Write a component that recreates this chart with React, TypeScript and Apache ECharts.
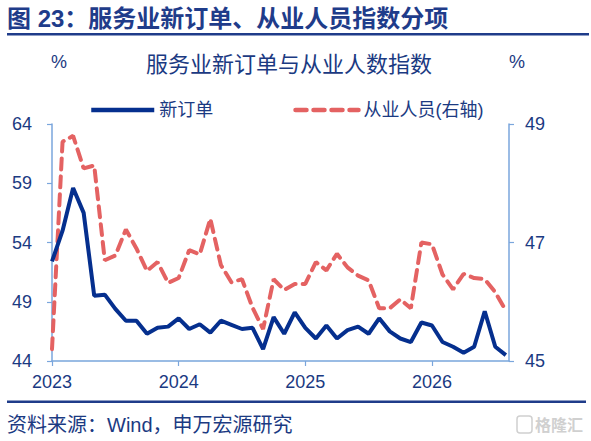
import React, { useEffect, useRef } from "react";
import * as echarts from "echarts";

const monthIndex: number[] = Array.from({ length: 44 }, (_, i) => i);
const yearTicks: number[] = [0, 12, 24, 36];
const yearLabels: string[] = ["2023", "2024", "2025", "2026"];
const leftTicks: number[] = [44, 49, 54, 59, 64];
const rightTicks: number[] = [45, 47, 49];

const newOrders: number[] = [
  52.4, 55.0, 58.6, 56.5, 49.5, 49.6, 48.4, 47.4, 47.4, 46.3, 46.8, 46.9,
  47.6, 46.7, 47.1, 46.4, 47.4, 47.05, 46.7, 46.8, 45.0, 47.7, 46.3, 48.1,
  46.8, 45.9, 47.0, 45.9, 46.6, 46.9, 46.3, 47.6, 46.5, 45.9, 45.6, 47.25,
  47.0, 45.6, 45.2, 44.7, 45.2, 48.2, 45.2, 44.5,
];
const employment: number[] = [
  45.2, 48.7, 48.8, 48.25, 48.3, 46.7, 46.78, 47.22, 46.9, 46.52, 46.67, 46.32,
  46.4, 46.87, 46.8, 47.4, 46.62, 46.33, 46.38, 45.9, 45.54, 46.38, 46.2, 46.3,
  46.3, 46.67, 46.53, 46.81, 46.58, 46.44, 46.36, 45.89, 45.89, 46.04, 45.89, 47.0,
  46.97, 46.46, 46.21, 46.47, 46.4, 46.38, 46.16, 45.85,
];

const NAVY = "#1B3A82";
const AXIS = "#7AA6DC";
const BLUE = "#052F8E";
const RED = "#E46262";
const FONT = "'Liberation Sans', 'Noto Sans CJK SC', sans-serif";

export default function App() {
  const ref = useRef<HTMLDivElement>(null);
  useEffect(() => {
    if (!ref.current) return;
    const chart = echarts.init(ref.current, undefined, { renderer: "svg" });
    chart.setOption({
      animation: false,
      backgroundColor: "#ffffff",
      textStyle: { fontFamily: FONT },
      grid: { left: 52, right: 82, top: 124, bottom: 80, containLabel: false },
      legend: {
        left: 89,
        top: 101,
        padding: 0,
        itemWidth: 63,
        itemHeight: 14,
        itemGap: 80,
        itemStyle: { opacity: 0 },
        lineStyle: { width: 4.5 },
        textStyle: { fontSize: 18, color: NAVY, fontFamily: FONT },
        data: ["新订单", "从业人员(右轴)"],
      },
      xAxis: {
        type: "value",
        min: 0,
        max: 43.3,
        splitLine: { show: false },
        axisLine: { show: true, lineStyle: { color: AXIS, width: 1.5 } },
        axisTick: {
          show: true,
          length: 5,
          lineStyle: { color: AXIS, width: 1.2 },
          customValues: yearTicks,
        },
        axisLabel: {
          fontSize: 18,
          color: NAVY,
          margin: 12,
          customValues: yearTicks,
          formatter: (v: number) => yearLabels[yearTicks.indexOf(Math.round(v))] ?? "",
        },
      },
      yAxis: [
        {
          type: "value",
          min: 44,
          max: 64,
          position: "left",
          splitLine: { show: false },
          axisLine: { show: true, lineStyle: { color: AXIS, width: 1.5 } },
          axisTick: {
            show: true,
            length: 5,
            lineStyle: { color: AXIS, width: 1.2 },
            customValues: leftTicks,
          },
          axisLabel: {
            fontSize: 18,
            color: NAVY,
            margin: 20,
            customValues: leftTicks,
          },
        },
        {
          type: "value",
          min: 45,
          max: 49,
          position: "right",
          splitLine: { show: false },
          axisLine: { show: true, lineStyle: { color: AXIS, width: 1.5 } },
          axisTick: {
            show: true,
            length: 5,
            lineStyle: { color: AXIS, width: 1.2 },
            customValues: rightTicks,
          },
          axisLabel: {
            fontSize: 18,
            color: NAVY,
            margin: 16,
            customValues: rightTicks,
          },
        },
      ],
      series: [
        {
          name: "从业人员(右轴)",
          type: "line",
          yAxisIndex: 1,
          symbol: "none",
          data: monthIndex.map((m, i) => [m, employment[i]]),
          lineStyle: { color: RED, width: 4, type: [11, 7], cap: "round" },
          itemStyle: { color: RED },
          z: 2,
        },
        {
          name: "新订单",
          type: "line",
          yAxisIndex: 0,
          symbol: "none",
          data: monthIndex.map((m, i) => [m, newOrders[i]]),
          lineStyle: { color: BLUE, width: 4 },
          itemStyle: { color: BLUE },
          z: 3,
        },
      ],
      graphic: [
        {
          type: "text",
          left: 7,
          top: 6,
          style: {
            text: "图 23：服务业新订单、从业人员指数分项",
            fill: "#1F3C8A",
            font: `bold 24px ${FONT}`,
          },
        },
        {
          type: "rect",
          shape: { x: 7, y: 33, width: 582, height: 2.5 },
          style: { fill: "#1F3C8A" },
        },
        {
          type: "text",
          x: 289,
          y: 64,
          style: {
            text: "服务业新订单与从业人数指数",
            fill: NAVY,
            font: `22px ${FONT}`,
            align: "center",
            verticalAlign: "middle",
          },
        },
        {
          type: "text",
          x: 59,
          y: 62,
          style: {
            text: "%",
            fill: NAVY,
            font: `18px ${FONT}`,
            align: "center",
            verticalAlign: "middle",
          },
        },
        {
          type: "text",
          x: 517,
          y: 62,
          style: {
            text: "%",
            fill: NAVY,
            font: `18px ${FONT}`,
            align: "center",
            verticalAlign: "middle",
          },
        },
        {
          type: "rect",
          shape: { x: 7, y: 400.5, width: 579, height: 2.5 },
          style: { fill: "#1F3C8A" },
        },
        {
          type: "text",
          x: 7,
          y: 425,
          style: {
            text: "资料来源：Wind，申万宏源研究",
            fill: NAVY,
            font: `20px ${FONT}`,
            align: "left",
            verticalAlign: "middle",
          },
        },
        {
          type: "rect",
          shape: { x: 517, y: 416, width: 15, height: 17, r: 3 },
          style: { fill: "none", stroke: "#D0D0D0", lineWidth: 1.5 },
        },
        {
          type: "text",
          x: 535,
          y: 425,
          style: {
            text: "格隆汇",
            fill: "#D0D0D0",
            font: `bold 16px ${FONT}`,
            align: "left",
            verticalAlign: "middle",
          },
        },
      ],
    });
    return () => chart.dispose();
  }, []);
  return (
    <div
      ref={ref}
      style={{ position: "fixed", left: 0, top: 0, width: 591, height: 441 }}
    />
  );
}
